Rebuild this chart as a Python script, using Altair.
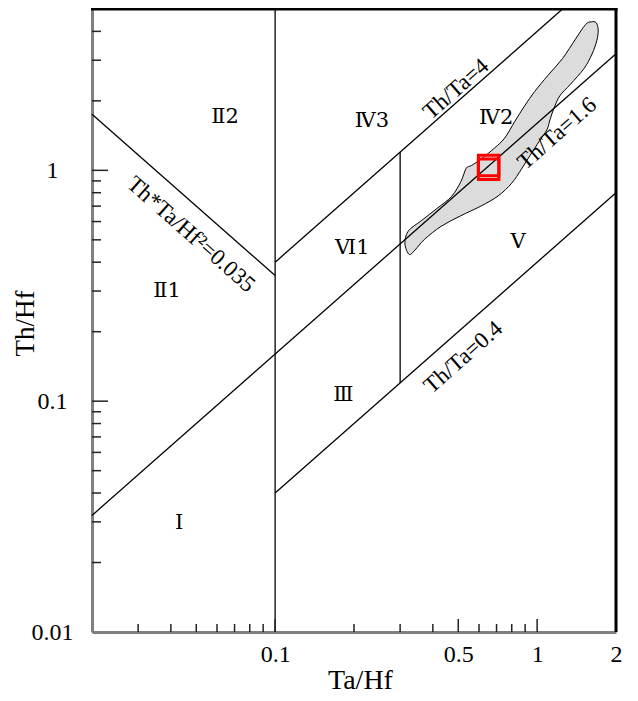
import altair as alt
import pandas as pd

# ---------------- data ----------------
# field boundary lines (Ta/Hf, Th/Hf end points)
seg_x1 = [0.1, 0.3, 0.02, 0.1, 0.1, 0.02]
seg_y1 = [0.01, 0.12, 0.032, 0.4, 0.04, 1.75]
seg_x2 = [0.1, 0.3, 2.0, 1.25, 2.0, 0.1]
seg_y2 = [5.0, 1.2, 3.2, 5.0, 0.8, 0.35]

# grey field outline
poly_x = [1.61, 1.68, 1.71, 1.69, 1.62, 1.51, 1.34, 1.22, 1.16, 1.12, 1.09, 1.02,
          0.94, 0.87, 0.80, 0.71, 0.61, 0.51, 0.43, 0.372, 0.342, 0.325,
          0.313, 0.322, 0.362, 0.415, 0.472, 0.512, 0.536, 0.562, 0.612, 0.688,
          0.752, 0.822, 0.898, 0.98, 1.10, 1.25, 1.40, 1.53]
poly_y = [4.40, 4.36, 4.06, 3.65, 3.19, 2.76, 2.36, 2.10, 1.86, 1.66, 1.50, 1.34,
          1.16, 1.01, 0.88, 0.775, 0.700, 0.635, 0.572, 0.503, 0.452, 0.432,
          0.480, 0.545, 0.606, 0.684, 0.772, 0.895, 1.02, 1.05, 1.12, 1.25,
          1.38, 1.63, 1.91, 2.20, 2.58, 3.05, 3.70, 4.28]

# red sample symbols
pt_x = [0.653, 0.653]
pt_y = [1.05, 1.01]

# region labels
reg_text = ["Ⅱ2", "Ⅱ1", "Ⅰ", "Ⅳ3", "Ⅳ2", "Ⅵ1", "Ⅲ", "Ⅴ"]
reg_x = [0.0644, 0.0387, 0.0430, 0.234, 0.698, 0.197, 0.182, 0.845]
reg_y = [1.70, 0.299, 0.0297, 1.63, 1.68, 0.459, 0.106, 0.487]

# line labels
ln_text = ["Th*Ta/Hf²=0.035", "Th/Ta=4", "Th/Ta=1.6", "Th/Ta=0.4"]
ln_x = [0.0478, 0.490, 1.192, 0.522]
ln_y = [0.528, 2.253, 1.446, 0.155]
ln_angle = [41.5, 318.6, 318.6, 318.6]

# tick positions
y_minor = [0.02, 0.03, 0.04, 0.05, 0.06, 0.07, 0.08, 0.09,
           0.2, 0.3, 0.4, 0.5, 0.6, 0.7, 0.8, 0.9, 2, 3, 4]
y_major = [0.1, 1]
x_minor = [0.03, 0.04, 0.05, 0.06, 0.07, 0.08, 0.09,
           0.2, 0.3, 0.4, 0.6, 0.7, 0.8, 0.9]
x_major = [0.1, 0.5, 1]
x_labels = [0.1, 0.5, 1, 2]
y_labels = [0.01, 0.1, 1]

# ---------------- chart ----------------
W, H = 524, 623
FONT = "Liberation Serif"

xs = alt.Scale(type="log", domain=[0.02, 2], nice=False)
ys = alt.Scale(type="log", domain=[0.01, 5], nice=False)

xaxis = alt.Axis(values=x_labels, format="~g", title="Ta/Hf", grid=False, ticks=False,
                 labelFont=FONT, labelFontSize=24, labelColor="black", labelPadding=10,
                 labelFlush=False, labelOverlap=False,
                 domainColor="#808080", domainWidth=3,
                 titleFont=FONT, titleFontSize=28, titleFontWeight="normal", titleColor="black",
                 titleBaseline="alphabetic", titleY=56, titleX=268)
yaxis = alt.Axis(values=y_labels, format="~g", title="Th/Hf", grid=False, ticks=False,
                 labelFont=FONT, labelFontSize=24, labelColor="black", labelPadding=40,
                 labelAlign="center", labelFlush=False, labelOverlap=False,
                 domainColor="#808080", domainWidth=3,
                 titleFont=FONT, titleFontSize=27, titleFontWeight="normal", titleColor="black",
                 titleAngle=270, titleBaseline="alphabetic", titleAlign="center",
                 titleX=-59, titleY=314)

poly_df = pd.DataFrame({"x": poly_x, "y": poly_y, "i": list(range(len(poly_x)))})
poly = alt.Chart(poly_df).mark_line(
    fill="#dcdcdc", stroke="black", strokeWidth=1, interpolate="cardinal-closed"
).encode(
    x=alt.X("x:Q", scale=xs, axis=xaxis),
    y=alt.Y("y:Q", scale=ys, axis=yaxis),
    order="i:Q",
)

seg_df = pd.DataFrame({"x": seg_x1, "y": seg_y1, "x2": seg_x2, "y2": seg_y2})
segs = alt.Chart(seg_df).mark_rule(color="black", strokeWidth=1.3).encode(
    x=alt.X("x:Q", scale=xs), y=alt.Y("y:Q", scale=ys), x2="x2:Q", y2="y2:Q"
)

pt_df = pd.DataFrame({"x": pt_x, "y": pt_y})
pts = alt.Chart(pt_df).mark_point(
    shape="square", filled=False, stroke="#ff0000", strokeWidth=3, size=420, opacity=1
).encode(x=alt.X("x:Q", scale=xs), y=alt.Y("y:Q", scale=ys))

reg_df = pd.DataFrame({"x": reg_x, "y": reg_y, "t": reg_text})
regs = alt.Chart(reg_df).mark_text(
    font="DejaVu Serif", fontSize=21, color="black", align="center", baseline="middle"
).encode(x=alt.X("x:Q", scale=xs), y=alt.Y("y:Q", scale=ys), text="t:N")

ln_df = pd.DataFrame({"x": ln_x, "y": ln_y, "t": ln_text, "a": ln_angle})
lns = alt.Chart(ln_df).mark_text(
    font=FONT, fontSize=23, color="black", align="center", baseline="middle"
).encode(x=alt.X("x:Q", scale=xs), y=alt.Y("y:Q", scale=ys), text="t:N",
         angle=alt.Angle("a:Q", scale=None))

TICK = "#222222"
ymin = alt.Chart(pd.DataFrame({"v": y_minor})).mark_rule(color=TICK, strokeWidth=1.5).encode(
    y=alt.Y("v:Q", scale=ys), x=alt.value(0), x2=alt.value(9))
ymaj = alt.Chart(pd.DataFrame({"v": y_major})).mark_rule(color=TICK, strokeWidth=1.5).encode(
    y=alt.Y("v:Q", scale=ys), x=alt.value(0), x2=alt.value(16))
xmin = alt.Chart(pd.DataFrame({"v": x_minor})).mark_rule(color=TICK, strokeWidth=1.5).encode(
    x=alt.X("v:Q", scale=xs), y=alt.value(H), y2=alt.value(H - 8))
xmaj = alt.Chart(pd.DataFrame({"v": x_major})).mark_rule(color=TICK, strokeWidth=1.5).encode(
    x=alt.X("v:Q", scale=xs), y=alt.value(H), y2=alt.value(H - 13))

one = pd.DataFrame({"k": [0]})
top = alt.Chart(one).mark_rule(color="black", strokeWidth=3).encode(
    x=alt.value(-1), x2=alt.value(W + 1.5), y=alt.value(0))
right = alt.Chart(one).mark_rule(color="black", strokeWidth=3).encode(
    x=alt.value(W), y=alt.value(-1.5), y2=alt.value(H))

chart = alt.layer(poly, segs, pts, regs, lns, ymin, ymaj, xmin, xmaj, top, right).properties(
    width=W, height=H,
    autosize=alt.AutoSizeParams(type="none"),
    padding={"left": 84, "top": 1, "right": 14, "bottom": 68},
).configure_view(stroke=None).configure(background="white")

chart.save("out.html", embed_options={"renderer": "svg", "actions": False})
